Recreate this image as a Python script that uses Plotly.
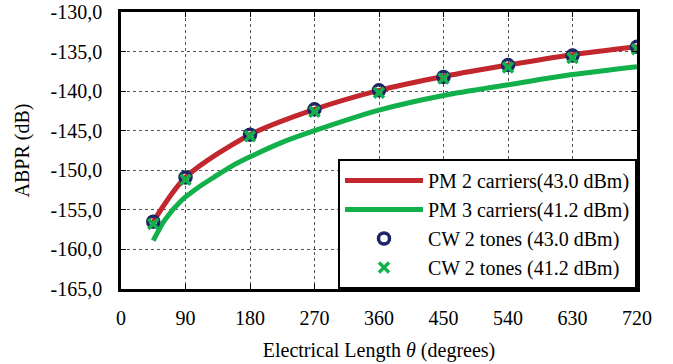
import plotly.graph_objects as go

# Electrical length (degrees) at the measured points
theta_pts = [45, 90, 180, 270, 360, 450, 540, 630, 720]

# PM 2 carriers (43.0 dBm) curve
pm2_theta = [45, 90, 180, 270, 360, 450, 540, 630, 720]
pm2_abpr = [-156.5, -150.9, -145.5, -142.3, -139.9, -138.15, -136.7, -135.4, -134.4]

# PM 3 carriers (41.2 dBm) curve
pm3_theta = [45, 61, 85, 108, 131, 154, 180, 224, 270, 360, 450, 540, 630, 720]
pm3_abpr = [-158.9, -156.3, -153.75, -152.15, -150.8, -149.5, -148.3, -146.5,
            -145.0, -142.4, -140.55, -139.2, -137.9, -136.9]

# CW 2 tones measurements
cw43_abpr = [-156.5, -150.9, -145.5, -142.3, -139.9, -138.2, -136.7, -135.5, -134.4]
cw41_abpr = [-156.8, -151.2, -145.7, -142.6, -140.2, -138.4, -137.0, -135.8, -134.7]

# Axis ticks
x_ticks = [0, 90, 180, 270, 360, 450, 540, 630, 720]
y_ticks = [-165, -160, -155, -150, -145, -140, -135, -130]
y_ticktext = ["-165,0", "-160,0", "-155,0", "-150,0", "-145,0", "-140,0", "-135,0", "-130,0"]

RED = "#c1272d"
GREEN = "#12b04a"
NAVY = "#1c2566"
FONT = "Liberation Serif"

fig = go.Figure()
fig.add_trace(go.Scatter(
    x=pm2_theta, y=pm2_abpr, mode="lines", name="PM 2 carriers(43.0 dBm)",
    line=dict(color=RED, width=5, shape="spline", smoothing=0.8),
))
fig.add_trace(go.Scatter(
    x=pm3_theta, y=pm3_abpr, mode="lines", name="PM 3 carriers(41.2 dBm)",
    line=dict(color=GREEN, width=5, shape="spline", smoothing=0.8),
))
fig.add_trace(go.Scatter(
    x=theta_pts, y=cw43_abpr, mode="markers", name="CW 2 tones (43.0 dBm)",
    marker=dict(symbol="circle-open", size=11, color=NAVY, line=dict(width=3.5, color=NAVY)),
))
fig.add_trace(go.Scatter(
    x=theta_pts, y=cw41_abpr, mode="markers", name="CW 2 tones (41.2 dBm)",
    marker=dict(symbol="x-thin", size=10, color=GREEN, line=dict(width=3.5, color=GREEN)),
))

axis_common = dict(
    showline=True, linecolor="black", linewidth=2.5, mirror="ticks",
    showgrid=True, gridcolor="#555555", gridwidth=1, griddash="dot",
    ticks="inside", ticklen=5, tickcolor="black", tickwidth=1,
    zeroline=False, automargin=False,
    tickfont=dict(family=FONT, size=20, color="black"),
)

fig.update_xaxes(
    range=[0, 720], tickvals=x_ticks, ticklabelstandoff=9,
    title=dict(text="Electrical Length <i>θ</i> (degrees)",
               font=dict(family=FONT, size=20, color="black"), standoff=16),
    **axis_common,
)
fig.update_yaxes(
    range=[-165, -130], tickvals=y_ticks, ticktext=y_ticktext, ticklabelstandoff=12,
    title=dict(text="ABPR (dB)", font=dict(family=FONT, size=20, color="black"), standoff=16),
    **axis_common,
)

fig.update_layout(
    width=673, height=364,
    margin=dict(l=121, r=36, t=12, b=75),
    paper_bgcolor="white", plot_bgcolor="white",
    font=dict(family=FONT, size=20, color="black"),
    legend=dict(
        x=1, xanchor="right", y=0, yanchor="bottom",
        bgcolor="white", bordercolor="black", borderwidth=2,
        font=dict(family=FONT, size=20, color="black"),
        tracegroupgap=0, itemwidth=78,
    ),
    showlegend=True,
)

fig.write_html("out.html")
